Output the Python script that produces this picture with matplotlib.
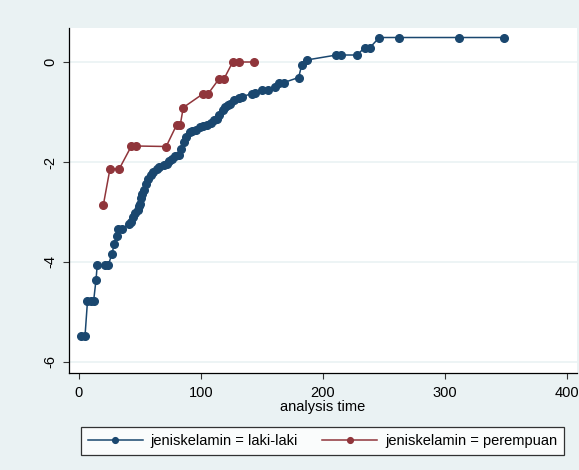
import matplotlib.pyplot as plt

plt.rcParams['font.family'] = ['Liberation Sans', 'DejaVu Sans']

# values
t_male = [2, 5, 7, 10, 12, 14, 15, 21, 24, 27, 29, 31, 32, 35, 41, 43, 44.5, 46,
          48, 49, 50, 51, 52, 53, 55, 57, 59, 61, 64, 66, 70, 72, 74, 76, 79, 82,
          84, 86, 88, 91, 93, 96, 99, 102, 105, 108, 111, 113, 115, 118, 120, 122,
          124, 127, 131, 134, 142, 144, 150, 155, 161, 164, 168, 180, 182.5, 186.5,
          211, 215, 228, 234, 238.5, 246, 262, 311, 348]
y_male = [-5.48, -5.48, -4.79, -4.79, -4.79, -4.36, -4.06, -4.07, -4.07, -3.84, -3.64,
          -3.48, -3.34, -3.34, -3.24, -3.19, -3.09, -3.02, -2.95, -2.88, -2.83, -2.72,
          -2.64, -2.56, -2.44, -2.33, -2.26, -2.19, -2.13, -2.09, -2.06, -2.04, -1.98,
          -1.93, -1.88, -1.86, -1.73, -1.60, -1.49, -1.39, -1.37, -1.36, -1.30, -1.27,
          -1.26, -1.22, -1.16, -1.13, -1.06, -0.96, -0.90, -0.86, -0.83, -0.76, -0.72,
          -0.69, -0.63, -0.62, -0.56, -0.56, -0.49, -0.42, -0.41, -0.31, -0.06, 0.04,
          0.14, 0.14, 0.14, 0.29, 0.29, 0.49, 0.49, 0.49, 0.49]

t_female = [20, 25.5, 33, 43, 47, 71.5, 80, 83, 85.5, 102, 106, 115, 119, 126, 131, 143.5]
y_female = [-2.86, -2.13, -2.14, -1.68, -1.68, -1.69, -1.26, -1.26, -0.91, -0.63, -0.63,
            -0.33, -0.33, 0.0, 0.0, 0.0]

bg = '#eaf2f3'
navy = '#1a476f'
maroon = '#90353b'

fig = plt.figure(figsize=(5.79, 4.70), dpi=100, facecolor=bg)
ax = fig.add_axes([0.119, 0.2064, 0.8775, 0.734])
ax.set_facecolor('white')

ax.plot(t_male, y_male, '-o', color=navy, lw=1.1, ms=5.5,
        label='jeniskelamin = laki-laki')
ax.plot(t_female, y_female, '-o', color=maroon, lw=1.1, ms=5.5,
        label='jeniskelamin = perempuan')

ax.set_xlim(-8.2, 408)
ax.set_ylim(-6.22, 0.68)
ax.set_xticks([0, 100, 200, 300, 400])
ax.set_yticks([-6, -4, -2, 0])
ax.set_yticklabels(['-6', '-4', '-2', '0'], rotation=90, va='center')
ax.tick_params(labelsize=10.5, length=4.5, color='#333333')
ax.tick_params(axis='y', pad=4)
ax.tick_params(axis='x', pad=5)
ax.yaxis.grid(True, color=bg, lw=1.2)
ax.set_axisbelow(True)
for s in ['top', 'right']:
    ax.spines[s].set_visible(False)
for s in ['left', 'bottom']:
    ax.spines[s].set_color('black')
    ax.spines[s].set_linewidth(0.9)

ax.set_xlabel('analysis time', fontsize=10.5, labelpad=0)

leg = fig.legend(loc='center', bbox_to_anchor=(0.557, 0.0617), ncol=2,
                 fontsize=10.5, frameon=True, fancybox=False, edgecolor='black',
                 handlelength=3.77, handletextpad=0.55, columnspacing=1.65,
                 markerscale=0.75, borderpad=0.45)
leg.get_frame().set_linewidth(0.9)

fig.savefig('out.png', dpi=100, facecolor=bg)
